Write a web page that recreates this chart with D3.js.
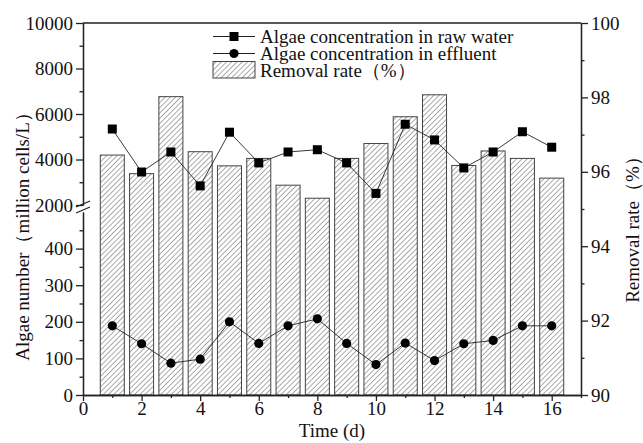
<!DOCTYPE html>
<html>
<head>
<meta charset="utf-8">
<script src="https://cdn.jsdelivr.net/npm/d3@7"></script>
<style>
  body { margin: 0; background: #fff; }
  svg text { font-family: "Liberation Serif", "Times New Roman", serif; fill: #111; }
  .axis path, .axis line { stroke: #222; stroke-width: 1.3; }
</style>
</head>
<body>
<div id="chart"></div>
<script>
// data
var days = [1, 2, 3, 4, 5, 6, 7, 8, 9, 10, 11, 12, 13, 14, 15, 16];
var rawWater = [5340, 3450, 4330, 2840, 5200, 3850, 4330, 4430, 3850, 2510, 5550, 4860, 3630, 4330, 5220, 4540];
var effluent = [189, 140, 87, 98, 200, 141, 189, 208, 141, 83, 142, 94, 140, 149, 189, 189];
var removalRate = [96.45, 95.95, 98.02, 96.54, 96.16, 96.36, 95.64, 95.29, 96.36, 96.76, 97.48, 98.07, 96.17, 96.56, 96.36, 95.83];

var lowTicks = [0, 100, 200, 300, 400];
var highTicks = [2000, 4000, 6000, 8000, 10000];
var rateTicks = [90, 92, 94, 96, 98, 100];
var xTicks = [0, 2, 4, 6, 8, 10, 12, 14, 16];

var chartW = 643, chartH = 443;
var plotLeft = 83, plotRight = 581, plotTop = 23, plotBottom = 395;
var serif = '"Liberation Serif", "Times New Roman", serif';
var fontSize = 19;

var svg = d3.select('#chart')
	.append('svg')
	.attr('width', chartW)
	.attr('height', chartH);

var x = d3.scaleLinear().domain([0, 17]).range([plotLeft, plotRight]);
var yRate = d3.scaleLinear().domain([90, 100]).range([plotBottom, plotTop]);
var yLow = d3.scaleLinear().domain([0, 500]).range([plotBottom, 212]);
var yHigh = d3.scaleLinear().domain([2000, 10000]).range([205, plotTop]);

// hatch pattern for bars
var pattern = svg.append('defs')
	.append('pattern')
	.attr('id', 'hatch')
	.attr('patternUnits', 'userSpaceOnUse')
	.attr('width', 3.7)
	.attr('height', 3.7)
	.attr('patternTransform', 'rotate(45)');
pattern.append('rect')
	.attr('width', 3.7).attr('height', 3.7).attr('fill', '#fff');
pattern.append('line')
	.attr('x1', 0).attr('y1', 0).attr('x2', 0).attr('y2', 3.7)
	.attr('stroke', '#555').attr('stroke-width', 1);

// bars (removal rate, right axis)
var barW = 0.82;
svg.selectAll('rect.bar')
	.data(removalRate)
	.enter()
	.append('rect')
	.attr('class', 'bar')
	.attr('x', function(d, i) { return x(days[i] - barW / 2); })
	.attr('width', x(barW) - x(0))
	.attr('y', function(d) { return yRate(d); })
	.attr('height', function(d) { return yRate(90) - yRate(d); })
	.attr('fill', 'url(#hatch)')
	.attr('stroke', '#444')
	.attr('stroke-width', 1);

// raw water line + squares
var rawLine = d3.line()
	.x(function(d, i) { return x(days[i]); })
	.y(function(d) { return yHigh(d); });
svg.append('path')
	.datum(rawWater)
	.attr('d', rawLine)
	.attr('fill', 'none')
	.attr('stroke', '#222')
	.attr('stroke-width', 0.9);
svg.selectAll('rect.sq')
	.data(rawWater)
	.enter()
	.append('rect')
	.attr('class', 'sq')
	.attr('x', function(d, i) { return x(days[i]) - 4.5; })
	.attr('y', function(d) { return yHigh(d) - 4.5; })
	.attr('width', 9)
	.attr('height', 9)
	.attr('fill', '#000');

// effluent line + circles
var effLine = d3.line()
	.x(function(d, i) { return x(days[i]); })
	.y(function(d) { return yLow(d); });
svg.append('path')
	.datum(effluent)
	.attr('d', effLine)
	.attr('fill', 'none')
	.attr('stroke', '#222')
	.attr('stroke-width', 0.9);
svg.selectAll('circle.eff')
	.data(effluent)
	.enter()
	.append('circle')
	.attr('class', 'eff')
	.attr('cx', function(d, i) { return x(days[i]); })
	.attr('cy', function(d) { return yLow(d); })
	.attr('r', 4.6)
	.attr('fill', '#000');

// axes
function styleTicks(g) {
	g.attr('font-family', serif).attr('font-size', fontSize);
	g.selectAll('text').style('font-family', serif).style('font-size', fontSize + 'px');
}

var fmt = d3.format('d');

svg.append('g')
	.attr('class', 'axis')
	.attr('transform', 'translate(0,' + plotBottom + ')')
	.call(d3.axisBottom(x).tickValues(xTicks).tickFormat(fmt).tickSize(6).tickSizeOuter(0).tickPadding(1))
	.call(styleTicks);
svg.append('g')
	.attr('class', 'axis')
	.attr('transform', 'translate(0,' + plotBottom + ')')
	.call(d3.axisBottom(x).tickValues([1, 3, 5, 7, 9, 11, 13, 15, 17]).tickSize(3).tickSizeOuter(0).tickFormat(''));

svg.append('g')
	.attr('class', 'axis')
	.attr('transform', 'translate(' + plotLeft + ',0)')
	.call(d3.axisLeft(yLow).tickValues(lowTicks).tickFormat(fmt).tickSize(7).tickSizeOuter(0).tickPadding(3))
	.call(styleTicks);
svg.append('g')
	.attr('class', 'axis')
	.attr('transform', 'translate(' + plotLeft + ',0)')
	.call(d3.axisLeft(yLow).tickValues([50, 150, 250, 350, 450]).tickSize(3.5).tickSizeOuter(0).tickFormat(''));
svg.append('g')
	.attr('class', 'axis')
	.attr('transform', 'translate(' + plotLeft + ',0)')
	.call(d3.axisLeft(yHigh).tickValues(highTicks).tickFormat(fmt).tickSize(7).tickSizeOuter(0).tickPadding(3))
	.call(styleTicks);
svg.append('g')
	.attr('class', 'axis')
	.attr('transform', 'translate(' + plotLeft + ',0)')
	.call(d3.axisLeft(yHigh).tickValues([3000, 5000, 7000, 9000]).tickSize(3.5).tickSizeOuter(0).tickFormat(''));

svg.append('g')
	.attr('class', 'axis')
	.attr('transform', 'translate(' + plotRight + ',0)')
	.call(d3.axisRight(yRate).tickValues(rateTicks).tickFormat(fmt).tickSize(7).tickSizeOuter(0).tickPadding(3))
	.call(styleTicks);
svg.append('g')
	.attr('class', 'axis')
	.attr('transform', 'translate(' + plotRight + ',0)')
	.call(d3.axisRight(yRate).tickValues([91, 93, 95, 97, 99]).tickSize(3.5).tickSizeOuter(0).tickFormat(''));

// top frame
svg.append('line')
	.attr('x1', plotLeft).attr('x2', plotRight)
	.attr('y1', plotTop).attr('y2', plotTop)
	.attr('stroke', '#222').attr('stroke-width', 1.3);

// axis break marks
[204, 210].forEach(function(yy) {
	svg.append('line')
		.attr('x1', plotLeft - 7).attr('y1', yy + 3)
		.attr('x2', plotLeft + 7).attr('y2', yy - 3)
		.attr('stroke', '#222').attr('stroke-width', 1.3);
});

// axis titles
svg.append('text')
	.attr('transform', 'translate(22,232) rotate(-90)')
	.attr('text-anchor', 'middle')
	.attr('dy', '0.35em')
	.style('font-size', fontSize + 'px')
	.text('Algae number（million cells/L）');
svg.append('text')
	.attr('transform', 'translate(632,225) rotate(-90)')
	.attr('text-anchor', 'middle')
	.attr('dy', '0.35em')
	.style('font-size', fontSize + 'px')
	.text('Removal rate（%）');
svg.append('text')
	.attr('x', x(8.5))
	.attr('y', 430)
	.attr('dy', '0.35em')
	.attr('text-anchor', 'middle')
	.style('font-size', fontSize + 'px')
	.text('Time (d)');

// legend
var legend = svg.append('g');
var lx0 = 213, lx1 = 255, tx = 260;
var rowY = [36.5, 53.5, 70];
legend.append('line').attr('x1', lx0).attr('x2', lx1).attr('y1', rowY[0]).attr('y2', rowY[0])
	.attr('stroke', '#222').attr('stroke-width', 1);
legend.append('rect').attr('x', 229.5).attr('y', rowY[0] - 4.5).attr('width', 9).attr('height', 9).attr('fill', '#000');
legend.append('text').attr('x', tx).attr('y', rowY[0]).attr('dy', '0.35em').style('font-size', fontSize + 'px')
	.text('Algae concentration in raw water');
legend.append('line').attr('x1', lx0).attr('x2', lx1).attr('y1', rowY[1]).attr('y2', rowY[1])
	.attr('stroke', '#222').attr('stroke-width', 1);
legend.append('circle').attr('cx', 234).attr('cy', rowY[1]).attr('r', 4.6).attr('fill', '#000');
legend.append('text').attr('x', tx).attr('y', rowY[1]).attr('dy', '0.35em').style('font-size', fontSize + 'px')
	.text('Algae concentration in effluent');
legend.append('rect').attr('x', lx0).attr('y', 61.5).attr('width', lx1 - lx0).attr('height', 16.5)
	.attr('fill', 'url(#hatch)').attr('stroke', '#444').attr('stroke-width', 1);
legend.append('text').attr('x', tx).attr('y', rowY[2]).attr('dy', '0.35em').style('font-size', fontSize + 'px')
	.text('Removal rate（%）');
</script>
</body>
</html>
